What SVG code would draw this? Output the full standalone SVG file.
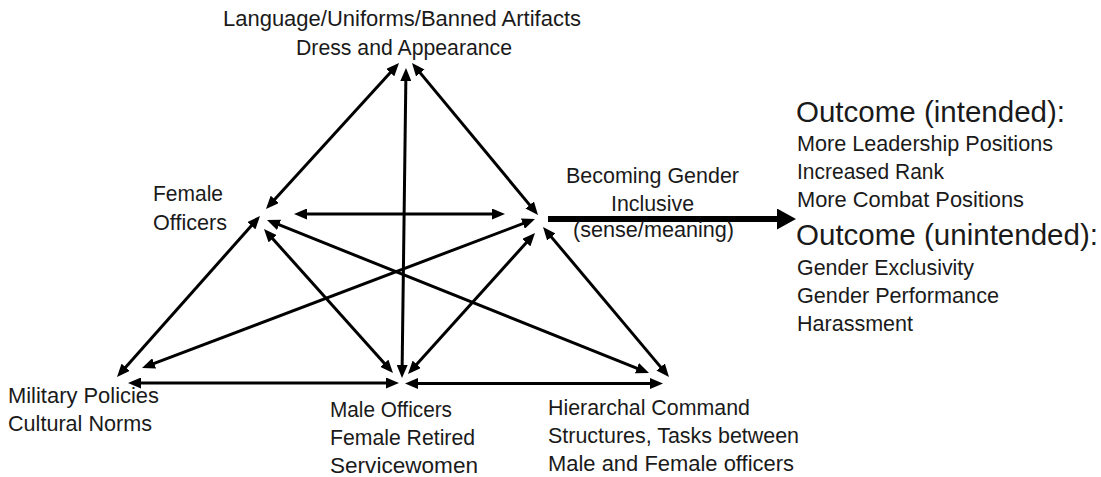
<svg xmlns="http://www.w3.org/2000/svg" width="1101" height="477" viewBox="0 0 1101 477">
<style>
text { font-family: "Liberation Sans", Arial, sans-serif; fill: #1a1a1a; }
.n { font-size: 22px; }
.o { font-size: 22px; }
.h { font-size: 30px; }
.ln { stroke: #000; stroke-width: 3; fill: none; marker-start: url(#ah); marker-end: url(#ah); }
.thick { stroke: #000; stroke-width: 6; fill: none; marker-end: url(#big); }
</style>
<defs>
<marker id="ah" markerUnits="userSpaceOnUse" markerWidth="13" markerHeight="11" refX="7" refY="5.5" orient="auto-start-reverse">
<path d="M0,0 L13,5.5 L0,11 z" fill="#000"/>
</marker>
<marker id="big" markerUnits="userSpaceOnUse" markerWidth="19" markerHeight="21" refX="4" refY="10.5" orient="auto">
<path d="M0,0 L19,10.5 L0,21 z" fill="#000"/>
</marker>
</defs>
<rect width="1101" height="477" fill="#fff"/>
<g id="connectors">
<line class="ln" x1="394.96" y1="67.43" x2="270.04" y2="204.57"/>
<line class="ln" x1="405.92" y1="74" x2="402.08" y2="372"/>
<line class="ln" x1="415.83" y1="67.62" x2="534.17" y2="210.38"/>
<line class="ln" x1="300" y1="214" x2="499" y2="214"/>
<line class="ln" x1="256.01" y1="220.49" x2="120.99" y2="372.51"/>
<line class="ln" x1="268" y1="233.47" x2="389" y2="368.53"/>
<line class="ln" x1="272.57" y1="222.23" x2="643.43" y2="370.77"/>
<line class="ln" x1="529.39" y1="221.13" x2="147.61" y2="365.87"/>
<line class="ln" x1="530.99" y1="237.46" x2="412.01" y2="369.54"/>
<line class="ln" x1="546.86" y1="231.6" x2="665.14" y2="372.4"/>
<line class="ln" x1="134" y1="383" x2="393" y2="383"/>
<line class="ln" x1="411" y1="383.5" x2="657" y2="383.5"/>
<line class="thick" x1="548" y1="219" x2="781" y2="219"/>
</g>
<g id="node-top">
<text class="n" x="223" y="26" textLength="358" lengthAdjust="spacingAndGlyphs">Language/Uniforms/Banned Artifacts</text>
<text class="n" x="296" y="55" textLength="216" lengthAdjust="spacingAndGlyphs">Dress and Appearance</text>
</g>
<g id="node-female-officers">
<text class="n" x="153" y="201" textLength="70" lengthAdjust="spacingAndGlyphs">Female</text>
<text class="n" x="153" y="230" textLength="74" lengthAdjust="spacingAndGlyphs">Officers</text>
</g>
<g id="node-becoming">
<text class="n" x="566" y="183" textLength="173" lengthAdjust="spacingAndGlyphs">Becoming Gender</text>
<text class="n" x="611" y="211" textLength="83" lengthAdjust="spacingAndGlyphs">Inclusive</text>
<text class="n" x="573" y="237" textLength="161" lengthAdjust="spacingAndGlyphs">(sense/meaning)</text>
</g>
<g id="node-military">
<text class="n" x="8" y="403" textLength="151" lengthAdjust="spacingAndGlyphs">Military Policies</text>
<text class="n" x="8" y="431" textLength="144" lengthAdjust="spacingAndGlyphs">Cultural Norms</text>
</g>
<g id="node-male">
<text class="n" x="330" y="417" textLength="122" lengthAdjust="spacingAndGlyphs">Male Officers</text>
<text class="n" x="330" y="445" textLength="145" lengthAdjust="spacingAndGlyphs">Female Retired</text>
<text class="n" x="330" y="473" textLength="148" lengthAdjust="spacingAndGlyphs">Servicewomen</text>
</g>
<g id="node-hierarchal">
<text class="n" x="548" y="415" textLength="202" lengthAdjust="spacingAndGlyphs">Hierarchal Command</text>
<text class="n" x="548" y="443" textLength="251" lengthAdjust="spacingAndGlyphs">Structures, Tasks between</text>
<text class="n" x="548" y="471" textLength="246" lengthAdjust="spacingAndGlyphs">Male and Female officers</text>
</g>
<g id="node-outcomes">
<text class="h" x="796" y="122" textLength="269" lengthAdjust="spacingAndGlyphs">Outcome (intended):</text>
<text class="o" x="797" y="151" textLength="256" lengthAdjust="spacingAndGlyphs">More Leadership Positions</text>
<text class="o" x="797" y="179" textLength="147" lengthAdjust="spacingAndGlyphs">Increased Rank</text>
<text class="o" x="797" y="207" textLength="227" lengthAdjust="spacingAndGlyphs">More Combat Positions</text>
<text class="h" x="796" y="245" textLength="302" lengthAdjust="spacingAndGlyphs">Outcome (unintended):</text>
<text class="o" x="797" y="275" textLength="177" lengthAdjust="spacingAndGlyphs">Gender Exclusivity</text>
<text class="o" x="797" y="303" textLength="202" lengthAdjust="spacingAndGlyphs">Gender Performance</text>
<text class="o" x="797" y="331" textLength="116" lengthAdjust="spacingAndGlyphs">Harassment</text>
</g>
</svg>
